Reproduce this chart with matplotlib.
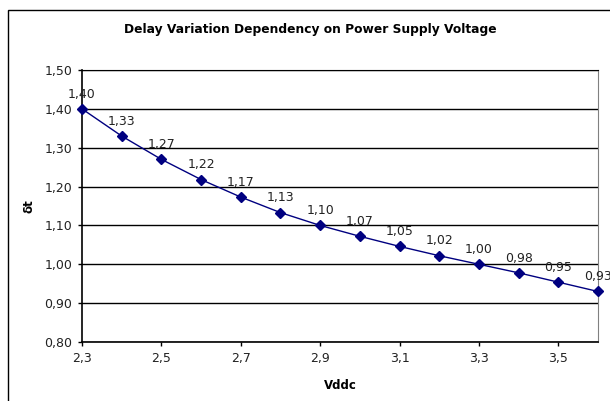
import matplotlib
matplotlib.use("Agg")
import matplotlib.pyplot as plt
from matplotlib.patches import Rectangle

vddc = [2.3, 2.4, 2.5, 2.6, 2.7, 2.8, 2.9, 3.0, 3.1, 3.2, 3.3, 3.4, 3.5, 3.6]
delta_t = [1.40, 1.33, 1.27, 1.218, 1.173, 1.133, 1.10, 1.072, 1.046, 1.022, 1.00, 0.978, 0.954, 0.93]
x_ticks = [2.3, 2.5, 2.7, 2.9, 3.1, 3.3, 3.5]
y_ticks = [0.80, 0.90, 1.00, 1.10, 1.20, 1.30, 1.40, 1.50]

W, H = 610, 401
fig = plt.figure(figsize=(W / 100, H / 100), dpi=100)
fig.patch.set_facecolor("white")
fig.patches.append(Rectangle((8 / W, -0.1), 1.2, 1 - 10 / H + 0.1, transform=fig.transFigure,
                             fill=False, edgecolor="black", linewidth=1.0))

ax = fig.add_axes([82 / W, 1 - 342 / H, (598 - 82) / W, (342 - 70) / H])
ax.plot(vddc, delta_t, color="#000080", linewidth=1.0, marker="D", markersize=5,
        markerfacecolor="#000080", markeredgecolor="#000080", zorder=3, clip_on=False)
for xv, yv in zip(vddc, delta_t):
    ax.annotate(f"{yv:.2f}".replace(".", ","), (xv, yv), xytext=(0, 6), textcoords="offset points",
                ha="center", va="bottom", fontsize=9, color="#222222", annotation_clip=False)

ax.set_xlim(2.3, 3.6)
ax.set_ylim(0.80, 1.50)
ax.set_xticks(x_ticks)
ax.set_yticks(y_ticks)
ax.set_xticklabels([f"{v:.1f}".replace(".", ",") for v in x_ticks], fontsize=9, color="#222222")
ax.set_yticklabels([f"{v:.2f}".replace(".", ",") for v in y_ticks], fontsize=9, color="#222222")
ax.tick_params(axis="both", direction="out", length=3, width=1, color="black", pad=4)
ax.yaxis.grid(True, color="black", linewidth=1.0)
ax.set_axisbelow(True)
for s in ["left", "bottom"]:
    ax.spines[s].set_color("black")
    ax.spines[s].set_linewidth(1.2)
ax.spines["right"].set_color("#808080")
ax.spines["top"].set_color("black")

ax.set_xlabel("Vddc", fontsize=8.5, fontweight="bold", labelpad=10)
ax.set_ylabel("δt", fontsize=8.5, fontweight="bold", labelpad=6)
fig.text(310 / W, 1 - 30 / H, "Delay Variation Dependency on Power Supply Voltage",
         ha="center", va="center", fontsize=8.8, fontweight="bold")

fig.savefig("out.png", dpi=100)
